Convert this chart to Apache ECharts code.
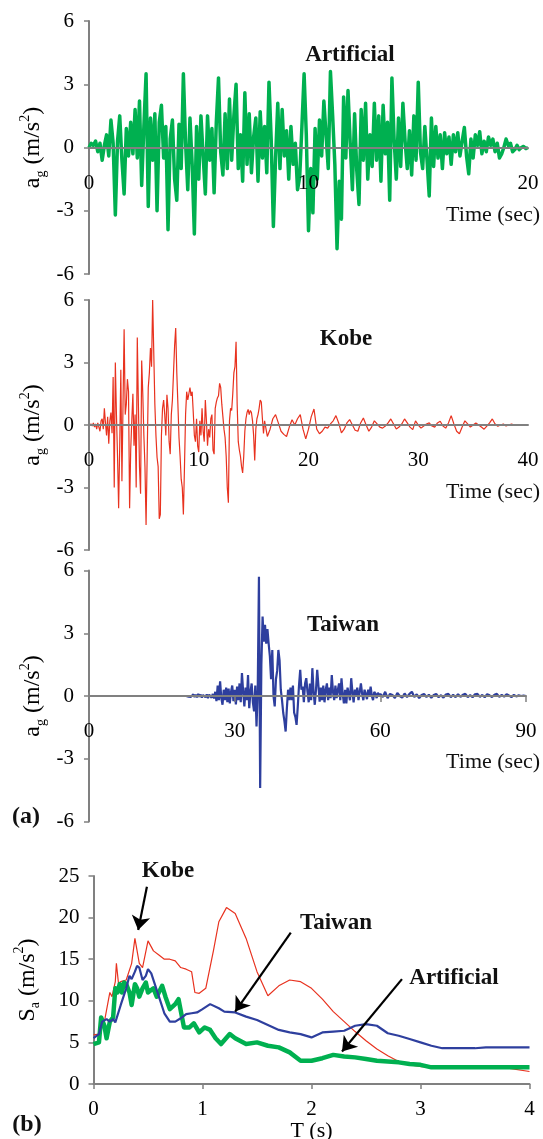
<!DOCTYPE html>
<html>
<head>
<meta charset="utf-8">
<script src="https://cdn.jsdelivr.net/npm/echarts@6/dist/echarts.min.js"></script>
<style>
html,body{margin:0;padding:0;background:#fff;}
#chart{width:543px;height:1139px;}
</style>
</head>
<body>
<div id="chart"></div>
<script>
// ---------------- DATA ----------------
// (a) Ground acceleration time histories, a_g in m/s^2
const ARTIFICIAL_DT = 0.1; // s, starts at t = 0
const artificialAcc = [
  0, 0.2, 0.1, 0.3, -0.2, 0.2, -0.6, 0.1, 0.6, -0.4,
  1.3, 0.2, -3.2, 0.3, 1.5, -0.6, -2.2, 0.9, -0.4, 1.2,
  -0.3, 1.8, -0.5, 2.2, -1.8, 1.0, 3.5, -2.8, 1.4, -0.6,
  1.6, -3.0, 1.2, 2.0, -0.5, 1.0, -3.9, 0.4, 1.3, -1.5,
  -2.5, 1.1, -1.0, 3.5, 0.2, -2.0, 1.4, -0.8, -4.1, 1.0,
  -1.5, 1.5, -0.4, -2.2, 1.5, -0.6, 0.9, -2.15, 1.2, 3.3,
  -0.2, -1.3, 1.6, -1.0, 2.3, -0.6, 1.5, 3.0, -1.0, 0.6,
  -1.6, 2.6, -0.8, 1.6, -1.2, 0.5, 1.4, -1.6, 1.7, -0.5,
  1.0, -1.2, 3.1, 0.4, -3.75, -0.5, 2.1, -1.0, 1.8, -0.4,
  0.8, -1.5, 1.0, -0.8, 0.2, -2.0, -1.4, 1.0, 3.5, 0.6,
  -3.95, -1.0, -3.1, 0.9, -1.5, 1.3, -0.4, 2.2, 0.6, -1.0,
  3.6, 1.5, -0.8, -4.8, -1.6, -3.4, 2.4, -0.5, 2.7, 0.2,
  -2.0, 1.6, -1.1, -2.7, 1.8, -0.6, 2.1, -1.5, 0.6, -0.9,
  2.1, -0.6, 1.5, -1.6, 2.0, -0.3, 1.2, -2.5, 3.3, 0.4,
  -1.5, 1.4, -0.9, 2.1, 0.3, -1.0, 0.8, -1.3, 1.5, -0.6,
  3.1, -0.2, -1.0, 1.0, -0.6, -2.3, 1.4, -0.9, 1.0, -0.5,
  0.6, -1.0, 0.7, -0.3, 0.5, -0.8, 0.6, -0.2, 0.7, -0.4,
  0.3, 0.95, -0.4, -1.25, 0.4, -0.5, 0.6, 0.1, 0.75, -0.3,
  0.3, -0.2, 0.5, 0.1, 0.4, -0.2, 0.2, -0.5, -0.3, 0.0,
  0.4, 0.1, 0.2, -0.2, -0.1, 0.1, -0.1, 0.0, 0.05, -0.05,
  0
];

const KOBE_EARLY_DT = 0.1;  // s, from t = 0 to 15.9
const kobeEarlyAcc = [
  0, 0, 0.05, -0.05, 0.1, -0.1, 0.05, -0.2, 0.1, -0.1,
  -0.3, 0.2, 0.3, -0.2, 0.8, 0.1, -0.5, 0.4, -0.9, 0.2,
  0.6, -0.4, 2.3, -3.0, 3.0, 0.5, -1.5, -4.0, -1.0, 2.65,
  -2.7, 1.0, 4.6, 0.5, 1.0, 2.2, 1.6, -4.0, -1.2, 0.2,
  1.5, -1.0, 0.5, -3.0, 4.2, 1.0, -2.0, -3.3, 3.1, 1.5,
  -0.5, -2.0, -4.8, -1.5, 1.8, 2.5, 3.7, 2.8, 6.0, 3.5,
  1.0, -0.5, -1.55, -2.0, -4.5, -4.3, -0.5, 0.8, 1.2, 0.5,
  -0.5, 1.45, 0.8, -0.8, -1.4, 0.5, 1.2, 2.5, 3.8, 4.65,
  2.5, 1.0, -0.6, -1.5, -2.6, -3.0, -4.3, -2.0, 0.5, 1.6,
  1.2, 1.5, 1.8, 1.4, 1.6, 0.6, -0.5, -0.8, 0.3, -1.0,
  -1.3, 0.2, -0.5, 0.8, -0.3, -0.8, 1.2, 0.2, -1.0, -0.2,
  -0.6, 0.3, 0.5, -1.2, -1.4, 0.8, 1.1, 1.3, 1.4, 2.0,
  1.8, 1.0, 0.4, -0.2, -0.6, -1.5, -3.0, -3.73, 0.2, 0.8,
  0.7, 1.5, 2.5, 2.8, 4.0, 1.0, -0.8, -1.2, -1.5, -2.0,
  -2.3, -1.5, -0.3, 0.3, 0.6, 0.75, 0.5, 0.7, 0.6, 0.2,
  -0.5, -1.7, -0.2, 0.3, 0.5, 0.8, 1.2, 1.1, 0.3, -0.4
];
const KOBE_LATE_START = 16; // s
const KOBE_LATE_DT = 0.25;  // s, 16.0 .. 40.0
const kobeLateAcc = [
  0.2, -0.55, -0.2, 0.3,
  0.5, 0.1, -0.3, -0.45,
  -0.55, -0.1, 0.25, 0.0,
  0.3, 0.5, -0.2, -0.67,
  -0.2, 0.4, 0.77, -0.2,
  -0.42, -0.3, -0.1, -0.15,
  0.05, 0.2, 0.45, 0.1,
  -0.38, -0.2, 0.1, 0.26,
  0.0, -0.25, -0.3, 0.1,
  0.34, 0.0, -0.3, -0.1,
  0.2, 0.05, -0.1, -0.15,
  -0.05, 0.1, 0.29, 0.05,
  -0.19, -0.1, 0.05, 0.29,
  0.1, -0.1, -0.22, 0.2,
  0.0, -0.15, -0.05, 0.05,
  0.1, -0.05, -0.1, 0.1,
  0.18, -0.05, -0.15, 0.1,
  0.45, 0.05, -0.3, -0.42,
  -0.1, 0.2, 0.05, -0.1,
  0.0, 0.1, 0.0, -0.1,
  -0.2, -0.05, 0.1, 0.29,
  0.05, -0.06, 0.0, 0.05,
  -0.05, 0.0, 0.05, 0.0,
  0.02, 0.0, 0.02, 0.0,
  0.0
];

const TAIWAN_QUIET_DT = 0.5;  // s, 0 .. 19.5
const taiwanQuietAcc = [
  0, 0, 0, 0, 0, 0, 0, 0, 0, 0,
  0, 0, 0, 0, 0, 0, 0, 0, 0, 0,
  0, 0, 0, 0, 0, 0, 0, 0, 0, 0,
  0, 0, 0, 0, 0, 0, 0, 0, 0, 0
];
const TAIWAN_MAIN_START = 20; // s
const TAIWAN_MAIN_DT = 0.25;  // s, 20 .. 59.75
const taiwanMainAcc = [
  0, 0.03, -0.03, 0.04,
  -0.04, 0.05, 0.08, -0.05,
  0.06, -0.06, 0.1, -0.04,
  0.07, -0.08, 0.05, 0.1,
  -0.06, 0.08, -0.1, 0.06,
  0.12, -0.08, 0.1, -0.12,
  0.2, -0.25, 0.5, -0.2,
  0.7, -0.1, -0.42, 0.3,
  -0.2, 0.4, -0.3, 0.35,
  -0.35, 0.2, 0.5, -0.25,
  0.3, -0.4, 0.45, -0.2,
  0.6, -0.3, 1.1, 0.2,
  -0.5, 0.4, -0.2, 1.0,
  -0.58, 0.2, 0.6, -0.3,
  -0.74, 0.5, -1.46, 0.3,
  5.7, -4.4, 1.5, 3.8,
  2.6, 3.4, 2.5, 3.2,
  2.5, 1.9, 0.8, 2.2,
  0.0, -0.5, 0.8, 1.2,
  2.2, 1.7, 0.3, -0.2,
  -0.8, -1.2, -1.7, -0.6,
  0.3, -0.2, 0.4, -0.2,
  0.5, -0.8, -1.0, -1.38,
  -0.5, 0.5, 1.25, 0.3,
  0.45, -0.3, 0.6, 0.85,
  0.2, -0.3, 0.6, -0.2,
  1.33, 0.2, -0.42, 0.3,
  1.25, 0.5, -0.27, 0.4,
  -0.2, 0.5, -0.3, 0.3,
  0.6, -0.2, 0.4, -0.1,
  1.0, 0.2, -0.2, 0.5,
  -0.1, 0.3, 0.6, -0.2,
  0.85, 0.1, -0.35, 0.3,
  -0.35, 0.4, 0.1, -0.2,
  0.85, 0.2, -0.3, 0.3,
  0.0, 0.4, -0.2, 0.2,
  0.6, 0.1, -0.2, 0.3,
  0.1, -0.15, 0.3, 0.0,
  0.45, 0.0, -0.2, 0.2,
  0.1, -0.1, 0.16, 0.0
];
const TAIWAN_TAIL_START = 60; // s
const TAIWAN_TAIL_DT = 0.5;   // s, 60 .. 90
const taiwanTailAcc = [
  0.1, -0.05, 0.2, -0.1, 0.1, 0.05, -0.1, 0.15, 0.0, -0.08,
  0.12, -0.05, 0.1, 0.2, -0.05, 0.08, -0.1, 0.05, 0.1, -0.05,
  0.06, -0.08, 0.05, 0.1, -0.06, 0.04, -0.08, 0.07, 0.1, -0.05,
  0.05, -0.05, 0.08, -0.04, 0.06, 0.1, -0.05, 0.04, -0.06, 0.08,
  0.1, -0.04, 0.05, -0.06, 0.08, 0.03, -0.05, 0.06, 0.1, -0.04,
  0.05, -0.03, 0.08, 0.02, -0.05, 0.05, -0.02, 0.03, 0.0, 0.02,
  0.0
];

// (b) Response spectra, S_a in m/s^2 vs period T in s
const kobeSpecT = [0,0.05,0.1,0.15,0.17,0.2,0.21,0.23,0.25,0.3,0.35,0.38,0.42,0.45,0.5,0.55,0.6,0.65,0.7,0.75,0.8,0.85,0.9,0.93,0.97,1.03,1.1,1.15,1.22,1.3,1.4,1.5,1.6,1.7,1.8,1.9,2.0,2.1,2.2,2.3,2.4,2.5,2.6,2.7,2.8,2.9,3.0,3.2,3.5,3.8,4.0];
const kobeSpecSa = [5.9,6.0,7.5,11.0,10.5,12.3,14.5,12.0,12.3,12.5,14.5,17.5,14.5,14.0,17.2,16.0,15.5,15.0,15.0,14.8,14.0,13.8,13.5,11.0,10.9,11.5,16.0,19.5,21.2,20.5,17.5,13.5,10.6,11.8,12.5,12.3,11.5,10.2,8.7,7.5,6.3,5.2,4.2,3.4,2.7,2.3,2.1,2.0,2.0,1.9,1.5];
const taiwanSpecT = [0,0.05,0.08,0.12,0.15,0.18,0.2,0.25,0.3,0.33,0.35,0.38,0.4,0.42,0.45,0.48,0.5,0.53,0.6,0.65,0.7,0.75,0.8,0.85,0.9,0.95,1.0,1.07,1.15,1.2,1.3,1.4,1.5,1.6,1.7,1.8,1.9,2.0,2.1,2.2,2.3,2.4,2.5,2.6,2.7,2.8,2.9,3.0,3.1,3.2,3.5,3.6,4.0];
const taiwanSpecSa = [5.5,6.0,7.5,7.8,7.5,7.8,7.4,9.5,11.5,13.0,12.6,13.5,14.2,14.0,12.5,13.0,13.8,13.3,10.5,8.5,7.5,7.5,7.9,8.4,8.5,8.6,9.0,9.6,9.1,8.7,8.6,8.1,7.7,7.1,6.5,6.2,6.0,5.6,6.2,6.3,6.4,7.0,7.2,7.0,6.1,5.8,5.4,5.0,4.6,4.3,4.3,4.4,4.4];
const artificialSpecT = [0,0.05,0.07,0.1,0.12,0.15,0.18,0.2,0.22,0.24,0.26,0.28,0.3,0.33,0.35,0.38,0.4,0.42,0.45,0.48,0.5,0.55,0.58,0.63,0.66,0.7,0.75,0.78,0.83,0.88,0.92,0.97,1.02,1.07,1.12,1.17,1.25,1.3,1.4,1.5,1.6,1.7,1.8,1.9,2.0,2.1,2.2,2.3,2.4,2.5,2.6,2.7,2.8,2.9,3.0,3.1,3.5,4.0];
const artificialSpecSa = [4.8,5.0,8.0,7.0,5.5,7.5,8.0,11.5,11.0,12.0,11.0,12.2,12.0,11.0,9.5,12.0,11.5,10.5,11.5,12.2,11.0,11.5,10.5,11.8,10.5,9.0,9.6,10.2,6.8,6.8,7.3,6.2,6.8,6.5,5.5,4.8,6.0,5.5,4.8,5.0,4.6,4.4,3.8,2.8,2.8,3.1,3.5,3.3,3.2,3.0,2.8,2.7,2.6,2.4,2.3,2.0,2.0,2.0];

// Axis ranges / tick settings
const accRange = { min: -6, max: 6, interval: 3 };
const artificialTimeAxis = { min: 0, max: 20, interval: 10 };
const kobeTimeAxis = { min: 0, max: 40, interval: 10 };
const taiwanTimeAxis = { min: 0, max: 90, interval: 30 };
const periodAxis = { min: 0, max: 4, interval: 1 };
const saAxis = { min: 0, max: 25, interval: 5 };

// Annotation arrows in panel (b): [startT, startSa, endT, endSa]
const arrowKobe = [0.49, 23.7, 0.41, 18.5];
const arrowTaiwan = [1.81, 18.2, 1.30, 8.7];
const arrowArtificial = [2.83, 12.6, 2.28, 3.9];

// ---------------- CHART ----------------
const FONT = '"Liberation Serif", "Times New Roman", serif';
const GRAY = '#808080';
const GREEN = '#00b050';
const RED = '#e8321f';
const BLUE = '#2e3f9e';

const uniform = (arr, dt, t0) => arr.map((a, i) => [t0 + i * dt, a]);
const zip = (xs, ys) => xs.map((x, i) => [x, ys[i]]);

const grids = [
  { left: 89, top: 21, width: 439, height: 253, outerBoundsMode: 'none', containLabel: false },
  { left: 89, top: 300, width: 439, height: 250, outerBoundsMode: 'none', containLabel: false },
  { left: 89, top: 570.5, width: 437, height: 251, outerBoundsMode: 'none', containLabel: false },
  { left: 93.5, top: 876, width: 436, height: 208, outerBoundsMode: 'none', containLabel: false }
];

const richName = {
  m: { fontFamily: FONT, fontSize: 24, color: '#000', lineHeight: 30 },
  sub: { fontFamily: FONT, fontSize: 14, color: '#000', lineHeight: 14, verticalAlign: 'bottom' },
  sup: { fontFamily: FONT, fontSize: 14, color: '#000', lineHeight: 14, verticalAlign: 'top' }
};

function tsX(idx, r, ticks) {
  return {
    type: 'value', gridIndex: idx, min: r.min, max: r.max, interval: r.interval,
    position: 'bottom', offset: -grids[idx].height / 2, z: 5,
    axisLine: { onZero: false, lineStyle: { color: GRAY, width: 2 } },
    axisTick: { show: ticks, length: 6, lineStyle: { color: GRAY, width: 1.5 } },
    splitLine: { show: false },
    axisLabel: { fontFamily: FONT, fontSize: 21, color: '#000', margin: 25 }
  };
}
function tsY(idx) {
  return {
    type: 'value', gridIndex: idx, min: accRange.min, max: accRange.max, interval: accRange.interval,
    axisLine: { show: true, onZero: false, lineStyle: { color: GRAY, width: 2 } },
    axisTick: { show: true, length: 5, lineStyle: { color: GRAY, width: 1.5 } },
    splitLine: { show: false },
    axisLabel: { fontFamily: FONT, fontSize: 21, color: '#000', margin: 15 },
    name: '{m|a}{sub|g}{m| (m/s}{sup|2}{m|)}',
    nameLocation: 'middle', nameGap: 41, nameRotate: 90, nameMoveOverlap: false,
    nameTextStyle: { rich: richName }
  };
}

const kobeSeriesData = uniform(kobeEarlyAcc, KOBE_EARLY_DT, 0)
  .concat(uniform(kobeLateAcc, KOBE_LATE_DT, KOBE_LATE_START));
const taiwanSeriesData = uniform(taiwanQuietAcc, TAIWAN_QUIET_DT, 0)
  .concat(uniform(taiwanMainAcc, TAIWAN_MAIN_DT, TAIWAN_MAIN_START))
  .concat(uniform(taiwanTailAcc, TAIWAN_TAIL_DT, TAIWAN_TAIL_START));

function arrowLine(a) {
  return [{ coord: [a[0], a[1]] }, { coord: [a[2], a[3]] }];
}

const textBold = (x, y, text, size, align) => ({
  type: 'text', x: x, y: y, z: 100,
  style: { text: text, fontFamily: FONT, fontSize: size, fontWeight: 'bold', fill: '#111',
    textAlign: align || 'center', textVerticalAlign: 'middle' }
});
const textReg = (x, y, text, size, align) => ({
  type: 'text', x: x, y: y, z: 100,
  style: { text: text, fontFamily: FONT, fontSize: size, fill: '#111',
    textAlign: align || 'center', textVerticalAlign: 'middle' }
});

const option = {
  animation: false,
  backgroundColor: '#fff',
  grid: grids,
  xAxis: [
    tsX(0, artificialTimeAxis, false),
    tsX(1, kobeTimeAxis, false),
    tsX(2, taiwanTimeAxis, true),
    {
      type: 'value', gridIndex: 3, min: periodAxis.min, max: periodAxis.max, interval: periodAxis.interval,
      axisLine: { onZero: false, lineStyle: { color: GRAY, width: 2 } },
      axisTick: { show: true, length: 5, lineStyle: { color: GRAY, width: 1.5 } },
      splitLine: { show: false },
      axisLabel: { fontFamily: FONT, fontSize: 21, color: '#000', margin: 15 },
      name: 'T (s)', nameLocation: 'middle', nameGap: 36, nameMoveOverlap: false,
      nameTextStyle: { fontFamily: FONT, fontSize: 22, color: '#000' }
    }
  ],
  yAxis: [
    tsY(0), tsY(1), tsY(2),
    {
      type: 'value', gridIndex: 3, min: saAxis.min, max: saAxis.max, interval: saAxis.interval,
      axisLine: { show: true, lineStyle: { color: GRAY, width: 2 } },
      axisTick: { show: true, length: 5, lineStyle: { color: GRAY, width: 1.5 } },
      splitLine: { show: false },
      axisLabel: { fontFamily: FONT, fontSize: 21, color: '#000', margin: 14 },
      name: '{m|S}{sub|a}{m| (m/s}{sup|2}{m|)}',
      nameLocation: 'middle', nameGap: 51, nameRotate: 90, nameMoveOverlap: false,
      nameTextStyle: { rich: richName }
    }
  ],
  series: [
    { name: 'Artificial', type: 'line', xAxisIndex: 0, yAxisIndex: 0, showSymbol: false,
      data: uniform(artificialAcc, ARTIFICIAL_DT, 0),
      lineStyle: { color: GREEN, width: 3.5, join: 'round' }, itemStyle: { color: GREEN } },
    { name: 'Kobe', type: 'line', xAxisIndex: 1, yAxisIndex: 1, showSymbol: false,
      data: kobeSeriesData,
      lineStyle: { color: RED, width: 1.2 }, itemStyle: { color: RED } },
    { name: 'Taiwan', type: 'line', xAxisIndex: 2, yAxisIndex: 2, showSymbol: false,
      data: taiwanSeriesData,
      lineStyle: { color: BLUE, width: 2.2 }, itemStyle: { color: BLUE } },
    { name: 'Kobe Sa', type: 'line', xAxisIndex: 3, yAxisIndex: 3, showSymbol: false,
      data: zip(kobeSpecT, kobeSpecSa),
      lineStyle: { color: RED, width: 1.2 }, itemStyle: { color: RED },
      markLine: {
        silent: true, symbol: ['none', 'arrow'], symbolSize: 14,
        lineStyle: { color: '#000', width: 2.2, type: 'solid' },
        label: { show: false },
        data: [arrowLine(arrowKobe), arrowLine(arrowTaiwan), arrowLine(arrowArtificial)]
      } },
    { name: 'Artificial Sa', type: 'line', xAxisIndex: 3, yAxisIndex: 3, showSymbol: false,
      data: zip(artificialSpecT, artificialSpecSa),
      lineStyle: { color: GREEN, width: 4.5, join: 'round' }, itemStyle: { color: GREEN } },
    { name: 'Taiwan Sa', type: 'line', xAxisIndex: 3, yAxisIndex: 3, showSymbol: false,
      data: zip(taiwanSpecT, taiwanSpecSa),
      lineStyle: { color: BLUE, width: 2.2 }, itemStyle: { color: BLUE } }
  ],
  graphic: [
    textBold(350, 55, 'Artificial', 23),
    textBold(346, 339, 'Kobe', 23),
    textBold(343, 625, 'Taiwan', 23),
    textReg(540, 215, 'Time (sec)', 22, 'right'),
    textReg(540, 492, 'Time (sec)', 22, 'right'),
    textReg(540, 762, 'Time (sec)', 22, 'right'),
    textBold(26, 817, '(a)', 24),
    textBold(27, 1125, '(b)', 24),
    textBold(168, 871, 'Kobe', 23),
    textBold(336, 923, 'Taiwan', 23),
    textBold(454, 978, 'Artificial', 23)
  ]
};

const chart = echarts.init(document.getElementById('chart'), null, { renderer: 'canvas' });
chart.setOption(option);
</script>
</body>
</html>
